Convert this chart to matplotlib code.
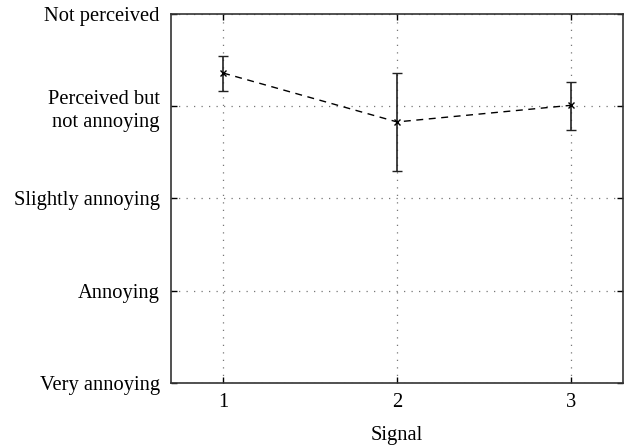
import matplotlib
matplotlib.use("Agg")
import matplotlib.pyplot as plt

signals = [1, 2, 3]
mean_score = [4.36, 3.83, 4.01]
err_low = [4.17, 3.30, 3.74]
err_high = [4.55, 4.36, 4.26]

level_values = [1, 2, 3, 4, 5]
level_labels = ["Very annoying", "Annoying", "Slightly annoying",
                "Perceived but\nnot annoying", "Not perceived"]

plt.rcParams["font.family"] = ["Liberation Serif", "DejaVu Serif"]
FS = 14.8

fig = plt.figure(figsize=(6.3, 4.46), dpi=100)
ax = fig.add_axes([0.2714, 0.1413, 0.7175, 0.8273])

yerr = [[m - lo for m, lo in zip(mean_score, err_low)],
        [hi - m for m, hi in zip(mean_score, err_high)]]
ax.errorbar(signals, mean_score, yerr=yerr, color="black", ls=(0, (5, 4)),
            lw=1.0, marker="x", ms=4, mew=1.0, ecolor="#222222",
            elinewidth=1.2, capsize=3.5, capthick=1.2)

ax.set_xlim(0.7, 3.3)
ax.set_ylim(1, 5)
ax.set_xticks(signals)
ax.set_yticks(level_values)
ax.set_yticklabels(level_labels, fontsize=FS, linespacing=1.3)
ax.tick_params(axis="x", labelsize=FS, pad=7)
ax.tick_params(axis="y", pad=8)
ax.tick_params(direction="in", top=True, right=True, length=4, width=1.0)
ax.set_xlabel("Signal", fontsize=FS, labelpad=10)

ax.grid(True, color="#777777", ls=(0, (1, 5)), lw=0.9)
for s in ax.spines.values():
    s.set_linewidth(1.2)
    s.set_color("#333333")

fig.savefig("out.png", dpi=100)
